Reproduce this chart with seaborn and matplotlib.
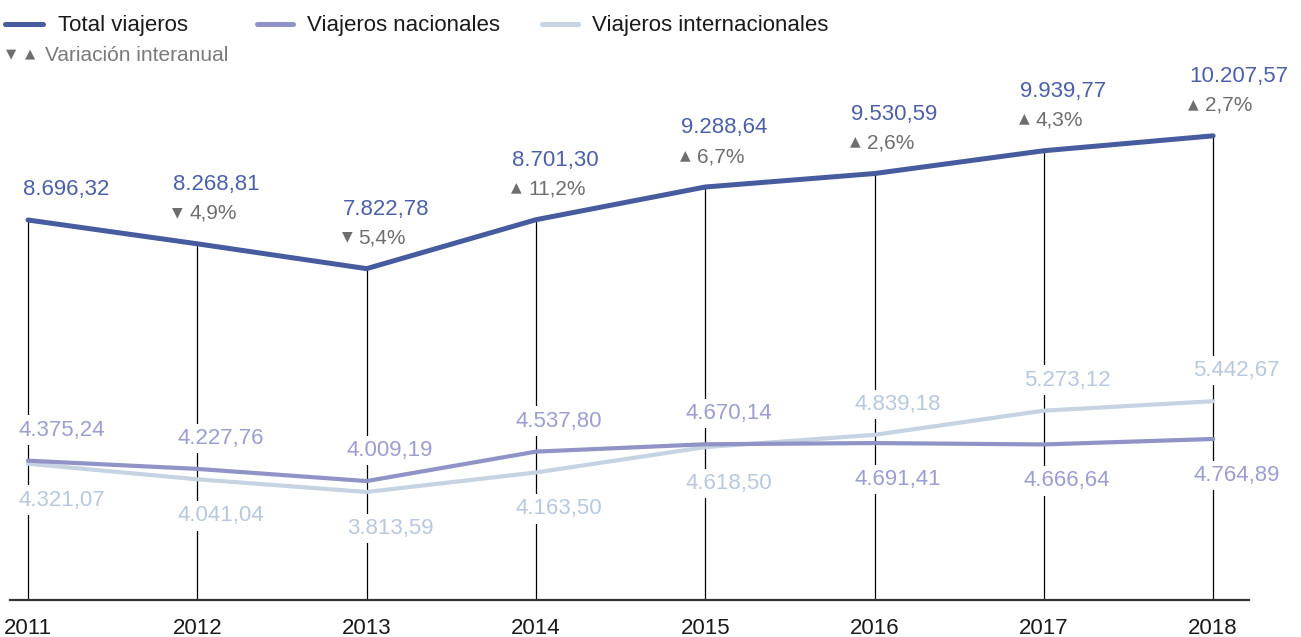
import matplotlib
matplotlib.use("Agg")
import matplotlib.pyplot as plt
import numpy as np
import pandas as pd
import seaborn as sns
from matplotlib.lines import Line2D

# ---------------- data ----------------
years = [2011, 2012, 2013, 2014, 2015, 2016, 2017, 2018]
total = [8696.32, 8268.81, 7822.78, 8701.30, 9288.64, 9530.59, 9939.77, 10207.57]
nacionales = [4375.24, 4227.76, 4009.19, 4537.80, 4670.14, 4691.41, 4666.64, 4764.89]
internacionales = [4321.07, 4041.04, 3813.59, 4163.50, 4618.50, 4839.18, 5273.12, 5442.67]
variacion = [None, -4.9, -5.4, 11.2, 6.7, 2.6, 4.3, 2.7]
series_names = ["Total viajeros", "Viajeros nacionales", "Viajeros internacionales"]
legend_var = "Variación interanual"

# ---------------- style ----------------
C_TOTAL, C_NAC, C_INT = "#465c9f", "#8f93c6", "#c6d3e3"
T_TOTAL, T_NAC, T_INT = "#4c60a8", "#9b9ecf", "#b8c8de"
C_GRAY = "#6e6e6e"
W, H = 1301, 637

sns.set_theme(style="white")
plt.rcParams['font.family'] = ['Liberation Sans', 'DejaVu Sans']

fig = plt.figure(figsize=(W / 100, H / 100), dpi=100)
ax = fig.add_axes([0, 37 / H, 1, 600 / H])

df = pd.DataFrame({
    "year": years * 3,
    "value": total + nacionales + internacionales,
    "serie": [series_names[0]] * 8 + [series_names[1]] * 8 + [series_names[2]] * 8,
})

ybot, ytop = 1874, 12646
ax.set_xlim(2010.8346, 2018.519)
ax.set_ylim(ybot, ytop)

# vertical guide lines from the total line down to the axis
ax.vlines(years, ybot, total, colors="black", linewidth=0.9, zorder=1)

for name, color, lw in [(series_names[2], C_INT, 3.0),
                        (series_names[1], C_NAC, 3.0),
                        (series_names[0], C_TOTAL, 3.6)]:
    sns.lineplot(data=df[df.serie == name], x="year", y="value", color=color,
                 linewidth=lw, ax=ax, legend=False, zorder=3,
                 solid_capstyle="round", solid_joinstyle="miter")


def fmt(v):
    s = f"{v:,.2f}"
    return s.replace(",", "X").replace(".", ",").replace("X", ".")


# total labels + variation
for i, (yr, v) in enumerate(zip(years, total)):
    var = variacion[i]
    if var is None:
        ax.annotate(fmt(v), (yr, v), xytext=(-5, 25), textcoords="offset pixels",
                    ha="left", va="baseline", fontsize=16, color=T_TOTAL, zorder=4)
        continue
    ax.annotate(fmt(v), (yr, v), xytext=(-24, 54), textcoords="offset pixels",
                ha="left", va="baseline", fontsize=16, color=T_TOTAL, zorder=4)
    tri = "▲" if var > 0 else "▼"
    ax.annotate(tri, (yr, v), xytext=(-25, 28), textcoords="offset pixels",
                ha="left", va="baseline", fontsize=10, color=C_GRAY,
                family="DejaVu Sans", zorder=4)
    ax.annotate(f"{abs(var):.1f}%".replace(".", ","), (yr, v), xytext=(-8, 25),
                textcoords="offset pixels", ha="left", va="baseline",
                fontsize=15, color=C_GRAY, zorder=4)

# lower series labels: higher value above, lower value below
bbox = dict(facecolor="white", edgecolor="none", pad=3)
for i, yr in enumerate(years):
    n, t = nacionales[i], internacionales[i]
    dx = -10 if i == 0 else -20
    for v, col, other in [(n, T_NAC, t), (t, T_INT, n)]:
        dy = 25 if v >= other else -42
        ax.annotate(fmt(v), (yr, v), xytext=(dx, dy), textcoords="offset pixels",
                    ha="left", va="baseline", fontsize=16, color=col,
                    bbox=bbox, zorder=2)

# axes styling
for s in ["top", "right", "left"]:
    ax.spines[s].set_visible(False)
ax.spines["bottom"].set_color("#333333")
ax.spines["bottom"].set_linewidth(1.6)
ax.spines["bottom"].set_bounds(2010.894, 2018.212)
ax.set_xticks(years)
ax.set_xticklabels([str(y) for y in years], fontsize=16, color="#1a1a1a")
ax.set_yticks([])
ax.tick_params(axis="x", length=0, pad=13)
ax.set_xlabel("")
ax.set_ylabel("")
ax.grid(False)


# manual legend
def fx(px):
    return px / W


def fy(py):
    return 1 - py / H


for (x0, x1, xt), name, col in zip([(5, 43, 58), (257, 293, 307), (542, 578, 592)],
                                   series_names, [C_TOTAL, C_NAC, C_INT]):
    fig.add_artist(Line2D([fx(x0), fx(x1)], [fy(24), fy(24)], transform=fig.transFigure,
                          color=col, linewidth=3.6, solid_capstyle="round"))
    fig.text(fx(xt), fy(31), name, fontsize=16, color="#1a1a1a", va="baseline", ha="left")

fig.text(fx(6), fy(57), "▼", fontsize=9.5, color=C_GRAY, family="DejaVu Sans",
         va="baseline", ha="left")
fig.text(fx(25), fy(57), "▲", fontsize=9.5, color=C_GRAY, family="DejaVu Sans",
         va="baseline", ha="left")
fig.text(fx(45), fy(61), legend_var, fontsize=15, color="#7a7a7a", va="baseline", ha="left")

fig.savefig("out.png", dpi=100, facecolor="white")
